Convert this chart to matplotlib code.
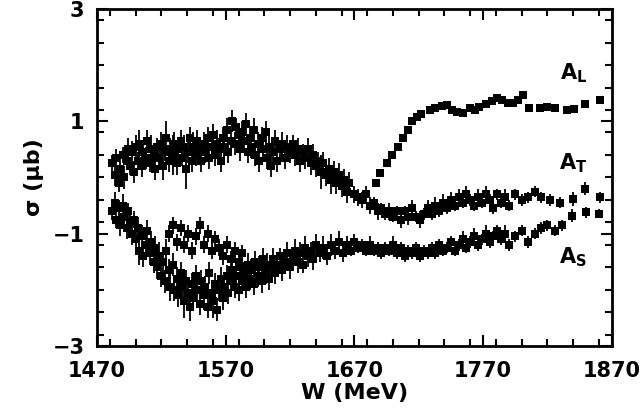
import matplotlib
matplotlib.use("Agg")
import matplotlib.pyplot as plt
from matplotlib.ticker import FixedLocator, MultipleLocator

# upper-left band continuing into the middle band at high W
w_t = [1482, 1484, 1485, 1487, 1488, 1490, 1491, 1493, 1494, 1496, 1497, 1499, 1500, 1502, 1503,
       1505, 1506, 1508, 1509, 1511, 1512, 1514, 1515, 1517, 1518, 1520, 1521, 1523, 1524, 1526,
       1527, 1529, 1530, 1532, 1533, 1535, 1536, 1538, 1539, 1541, 1542, 1544, 1545, 1547, 1548,
       1550, 1551, 1553, 1554, 1556, 1557, 1559, 1560, 1562, 1563, 1565, 1566, 1568, 1569, 1571,
       1572, 1574, 1575, 1577, 1578, 1580, 1581, 1583, 1584, 1586, 1587, 1589, 1590, 1592, 1593,
       1595, 1596, 1598, 1599, 1601, 1602, 1604, 1605, 1607, 1608, 1610, 1612, 1614, 1616, 1618,
       1620, 1622, 1624, 1626, 1628, 1630, 1632, 1634, 1636, 1638, 1640, 1642, 1644, 1646, 1648,
       1650, 1652, 1654, 1656, 1658, 1660, 1662, 1664, 1666, 1670, 1673, 1676, 1679, 1682, 1685,
       1688, 1691, 1694, 1697, 1700, 1703, 1706, 1709, 1712, 1715, 1718, 1721, 1724, 1727, 1730,
       1733, 1736, 1739, 1742, 1745, 1748, 1751, 1754, 1757, 1760, 1763, 1766, 1769, 1772, 1775,
       1778, 1781, 1784, 1787, 1790, 1795, 1800, 1805, 1810, 1815, 1822, 1830, 1840, 1849, 1861]
v_t = [0.25, 0.05, 0.35, -0.1, 0.15, 0.4, 0.0, 0.3, 0.5, 0.2, 0.45, 0.1, 0.55, 0.3, 0.6,
       0.2, 0.45, 0.35, 0.65, 0.25, 0.5, 0.4, 0.15, 0.55, 0.35, 0.6, 0.2, 0.45, 0.7, 0.3,
       0.5, 0.4, 0.6, 0.25, 0.5, 0.65, 0.35, 0.55, 0.15, 0.45, 0.7, 0.3, 0.55, 0.4, 0.65,
       0.5, 0.3, 0.6, 0.45, 0.7, 0.35, 0.55, 0.75, 0.4, 0.6, 0.5, 0.3, 0.7, 0.55, 0.85,
       0.45, 0.65, 1.0, 0.6, 0.9, 0.75, 0.5, 0.8, 0.65, 0.95, 0.45, 0.7, 0.55, 0.85, 0.4,
       0.6, 0.3, 0.7, 0.5, 0.8, 0.35, 0.55, 0.2, 0.45, 0.65, 0.3, 0.5, 0.6, 0.35, 0.55,
       0.45, 0.6, 0.4, 0.5, 0.3, 0.45, 0.35, 0.5, 0.25, 0.4, 0.2, 0.3, 0.1, 0.25, 0.05,
       0.15, -0.05, 0.1, -0.1, 0.05, -0.15, -0.05, -0.25, -0.1, -0.3, -0.35, -0.4, -0.3, -0.5, -0.45,
       -0.6, -0.55, -0.65, -0.6, -0.7, -0.6, -0.75, -0.6, -0.7, -0.55, -0.7, -0.75, -0.65, -0.55, -0.65,
       -0.5, -0.6, -0.45, -0.55, -0.4, -0.5, -0.35, -0.45, -0.3, -0.4, -0.5, -0.35, -0.45, -0.3, -0.4,
       -0.55, -0.3, -0.45, -0.35, -0.5, -0.3, -0.4, -0.35, -0.25, -0.35, -0.4, -0.45, -0.38, -0.2, -0.35]
e_t = [0.15, 0.2, 0.15, 0.15, 0.2, 0.15, 0.2, 0.15, 0.2, 0.15, 0.2, 0.2, 0.2, 0.15, 0.25,
       0.2, 0.15, 0.2, 0.2, 0.15, 0.25, 0.2, 0.2, 0.15, 0.2, 0.2, 0.25, 0.15, 0.3, 0.2,
       0.2, 0.35, 0.2, 0.2, 0.2, 0.2, 0.15, 0.2, 0.35, 0.2, 0.2, 0.2, 0.25, 0.2, 0.2,
       0.15, 0.2, 0.2, 0.2, 0.2, 0.2, 0.15, 0.2, 0.2, 0.25, 0.2, 0.2, 0.2, 0.2, 0.2,
       0.2, 0.2, 0.2, 0.2, 0.15, 0.2, 0.2, 0.2, 0.2, 0.2, 0.2, 0.2, 0.2, 0.2, 0.2,
       0.2, 0.2, 0.2, 0.2, 0.2, 0.2, 0.2, 0.2, 0.2, 0.2, 0.2, 0.15, 0.2, 0.2, 0.2,
       0.2, 0.15, 0.2, 0.2, 0.2, 0.15, 0.2, 0.2, 0.2, 0.2, 0.2, 0.15, 0.3, 0.2, 0.2,
       0.2, 0.25, 0.2, 0.2, 0.2, 0.2, 0.2, 0.2, 0.2, 0.15, 0.15, 0.15, 0.15, 0.15, 0.1,
       0.15, 0.1, 0.1, 0.15, 0.1, 0.1, 0.15, 0.1, 0.15, 0.15, 0.1, 0.15, 0.1, 0.15, 0.1,
       0.15, 0.1, 0.15, 0.1, 0.15, 0.1, 0.15, 0.1, 0.15, 0.1, 0.1, 0.15, 0.1, 0.15, 0.1,
       0.1, 0.1, 0.1, 0.15, 0.1, 0.1, 0.1, 0.1, 0.1, 0.1, 0.1, 0.1, 0.12, 0.12, 0.1]

# rising band at high W
w_l = [1687, 1690, 1695, 1699, 1704, 1708, 1712, 1715, 1719, 1722, 1729, 1733, 1738, 1742, 1746,
       1750, 1754, 1760, 1764, 1767, 1772, 1777, 1781, 1785, 1789, 1793, 1797, 1801, 1806, 1814,
       1820, 1826, 1835, 1841, 1849, 1861]
v_l = [-0.1, 0.08, 0.26, 0.4, 0.54, 0.7, 0.85, 1.0, 1.08, 1.13, 1.2, 1.24, 1.27, 1.29, 1.2,
       1.17, 1.15, 1.24, 1.2, 1.26, 1.31, 1.36, 1.42, 1.38, 1.33, 1.33, 1.38, 1.47, 1.24, 1.24,
       1.26, 1.24, 1.2, 1.22, 1.3, 1.38]
e_l = [0.06] * len(w_l)

# lower band
w_s = [1482, 1484, 1485, 1487, 1488, 1490, 1491, 1493, 1494, 1496, 1497, 1499, 1500, 1502, 1503,
       1505, 1506, 1508, 1509, 1511, 1512, 1514, 1515, 1517, 1518, 1520, 1521, 1523, 1524, 1526,
       1527, 1529, 1530, 1532, 1533, 1535, 1536, 1538, 1539, 1541, 1542, 1544, 1545, 1547, 1548,
       1550, 1551, 1553, 1554, 1556, 1557, 1559, 1560, 1562, 1563, 1565, 1566, 1568, 1569, 1571,
       1572, 1574, 1575, 1577, 1578, 1580, 1581, 1583, 1584, 1586, 1587, 1589, 1590, 1592, 1593,
       1595, 1596, 1598, 1599, 1601, 1602, 1604, 1605, 1607, 1608, 1610, 1612, 1614, 1616, 1618,
       1620, 1622, 1624, 1626, 1628, 1630, 1632, 1634, 1636, 1638, 1640, 1643, 1646, 1649, 1652,
       1655, 1658, 1661, 1664, 1667, 1670, 1673, 1676, 1679, 1682, 1685, 1688, 1691, 1694, 1697,
       1700, 1703, 1706, 1709, 1712, 1715, 1718, 1721, 1724, 1727, 1730, 1733, 1736, 1739, 1742,
       1745, 1748, 1751, 1754, 1757, 1760, 1763, 1766, 1769, 1772, 1775, 1778, 1781, 1784, 1787,
       1790, 1795, 1800, 1805, 1810, 1815, 1820, 1826, 1831, 1839, 1850, 1860]
v_s = [-0.6, -0.45, -0.75, -0.55, -0.85, -0.5, -0.7, -0.9, -0.6, -0.8, -1.0, -0.75, -1.1, -0.9, -1.3,
       -1.05, -1.4, -1.2, -0.95, -1.35, -1.15, -1.5, -1.25, -1.6, -1.4, -1.75, -1.5, -1.85, -1.3, -1.65,
       -1.95, -1.55, -2.0, -1.8, -2.1, -1.7, -1.95, -2.2, -1.85, -2.05, -2.3, -1.9, -2.15, -1.75, -2.0,
       -2.25, -1.85, -2.1, -1.95, -2.3, -1.7, -2.05, -2.2, -1.9, -2.35, -2.0, -1.8, -2.15, -1.95, -1.75,
       -2.05, -1.85, -1.65, -1.95, -1.75, -2.0, -1.6, -1.85, -1.7, -1.95, -1.55, -1.8, -1.65, -1.9, -1.5,
       -1.75, -1.6, -1.85, -1.45, -1.7, -1.55, -1.8, -1.6, -1.45, -1.7, -1.55, -1.4, -1.65, -1.5, -1.35,
       -1.6, -1.45, -1.3, -1.5, -1.35, -1.55, -1.25, -1.4, -1.3, -1.45, -1.2, -1.35, -1.25, -1.4, -1.2,
       -1.3, -1.15, -1.35, -1.2, -1.3, -1.15, -1.25, -1.2, -1.3, -1.2, -1.3, -1.25, -1.35, -1.25, -1.3,
       -1.2, -1.35, -1.25, -1.4, -1.3, -1.35, -1.25, -1.4, -1.3, -1.35, -1.25, -1.35, -1.2, -1.3, -1.25,
       -1.15, -1.3, -1.2, -1.1, -1.25, -1.15, -1.05, -1.2, -1.1, -1.0, -1.15, -1.05, -0.95, -1.1, -1.0,
       -1.2, -1.05, -0.95, -1.15, -1.0, -0.9, -0.85, -0.95, -0.85, -0.68, -0.62, -0.65]
e_s = [0.15, 0.2, 0.15, 0.15, 0.2, 0.2, 0.15, 0.2, 0.15, 0.2, 0.2, 0.15, 0.2, 0.2, 0.25,
       0.2, 0.2, 0.2, 0.2, 0.2, 0.2, 0.2, 0.2, 0.2, 0.25, 0.2, 0.2, 0.2, 0.2, 0.2,
       0.25, 0.2, 0.2, 0.2, 0.2, 0.2, 0.2, 0.3, 0.2, 0.2, 0.25, 0.2, 0.2, 0.2, 0.2,
       0.2, 0.2, 0.25, 0.2, 0.2, 0.2, 0.2, 0.3, 0.2, 0.2, 0.2, 0.2, 0.2, 0.2, 0.2,
       0.2, 0.2, 0.2, 0.2, 0.2, 0.2, 0.2, 0.2, 0.2, 0.2, 0.2, 0.2, 0.2, 0.2, 0.2,
       0.2, 0.2, 0.2, 0.2, 0.2, 0.2, 0.2, 0.2, 0.2, 0.2, 0.2, 0.15, 0.2, 0.2, 0.2,
       0.2, 0.15, 0.2, 0.2, 0.2, 0.15, 0.2, 0.2, 0.15, 0.2, 0.2, 0.15, 0.2, 0.15, 0.2,
       0.15, 0.2, 0.15, 0.15, 0.1, 0.15, 0.1, 0.1, 0.1, 0.15, 0.1, 0.1, 0.1, 0.1, 0.1,
       0.15, 0.1, 0.1, 0.1, 0.1, 0.1, 0.1, 0.1, 0.1, 0.1, 0.1, 0.1, 0.1, 0.1, 0.1,
       0.1, 0.1, 0.1, 0.15, 0.1, 0.1, 0.15, 0.1, 0.1, 0.15, 0.1, 0.1, 0.1, 0.1, 0.15,
       0.1, 0.1, 0.1, 0.1, 0.1, 0.1, 0.1, 0.1, 0.1, 0.12, 0.1, 0.08]

# second set filling the upper edge of the lower band
w_s2 = [1526, 1529, 1532, 1535, 1538, 1541, 1544, 1547, 1550, 1553, 1556, 1559, 1562, 1565, 1568,
        1571, 1574, 1577, 1580, 1583]
v_s2 = [-1.0, -0.85, -1.15, -0.9, -1.2, -1.0, -1.3, -1.05, -0.85, -1.2, -1.0, -1.3, -1.1, -1.25, -1.4,
        -1.2, -1.45, -1.3, -1.5, -1.35]
e_s2 = [0.15] * len(w_s2)

labels = [r"$\mathbf{A_L}$", r"$\mathbf{A_T}$", r"$\mathbf{A_S}$"]
label_w = [1840, 1840, 1840]
label_v = [1.85, 0.25, -1.42]

x_major = [1470, 1570, 1670, 1770, 1870]
y_major = [-3, -1, 1, 3]

fig = plt.figure(figsize=(6.42, 4.2), dpi=100)
ax = fig.add_axes([0.151, 0.176, 0.802, 0.803])

style = dict(fmt='s', color='black', ms=5.2, elinewidth=1.3, capsize=2.2, capthick=1.3, mew=0)
ax.errorbar(w_t, v_t, yerr=e_t, **style)
ax.errorbar(w_l, v_l, yerr=e_l, **style)
ax.errorbar(w_s, v_s, yerr=e_s, **style)
ax.errorbar(w_s2, v_s2, yerr=e_s2, **style)

for lab, x, y in zip(labels, label_w, label_v):
    ax.text(x, y, lab, fontsize=15, ha='center', va='center')

ax.set_xlim(1470, 1870)
ax.set_ylim(-3, 3)
ax.xaxis.set_major_locator(FixedLocator(x_major))
ax.xaxis.set_minor_locator(MultipleLocator(20))
ax.yaxis.set_major_locator(FixedLocator(y_major))
ax.yaxis.set_minor_locator(MultipleLocator(0.4))
ax.set_yticklabels(['\u22123', '\u22121', '1', '3'])
ax.tick_params(which='both', direction='in', top=True, right=True, width=1.5,
               labelsize=15, pad=9)
ax.tick_params(axis='x', which='both', pad=11)
ax.tick_params(which='major', length=8)
ax.tick_params(which='minor', length=5)
for lab in ax.get_xticklabels() + ax.get_yticklabels():
    lab.set_fontweight('bold')
for s in ax.spines.values():
    s.set_linewidth(2)

ax.set_xlabel('W (MeV)', fontsize=16, fontweight='bold', labelpad=1)
ax.set_ylabel('σ (μb)', fontsize=16, fontweight='bold', labelpad=6)

plt.savefig('out.png', dpi=100)
